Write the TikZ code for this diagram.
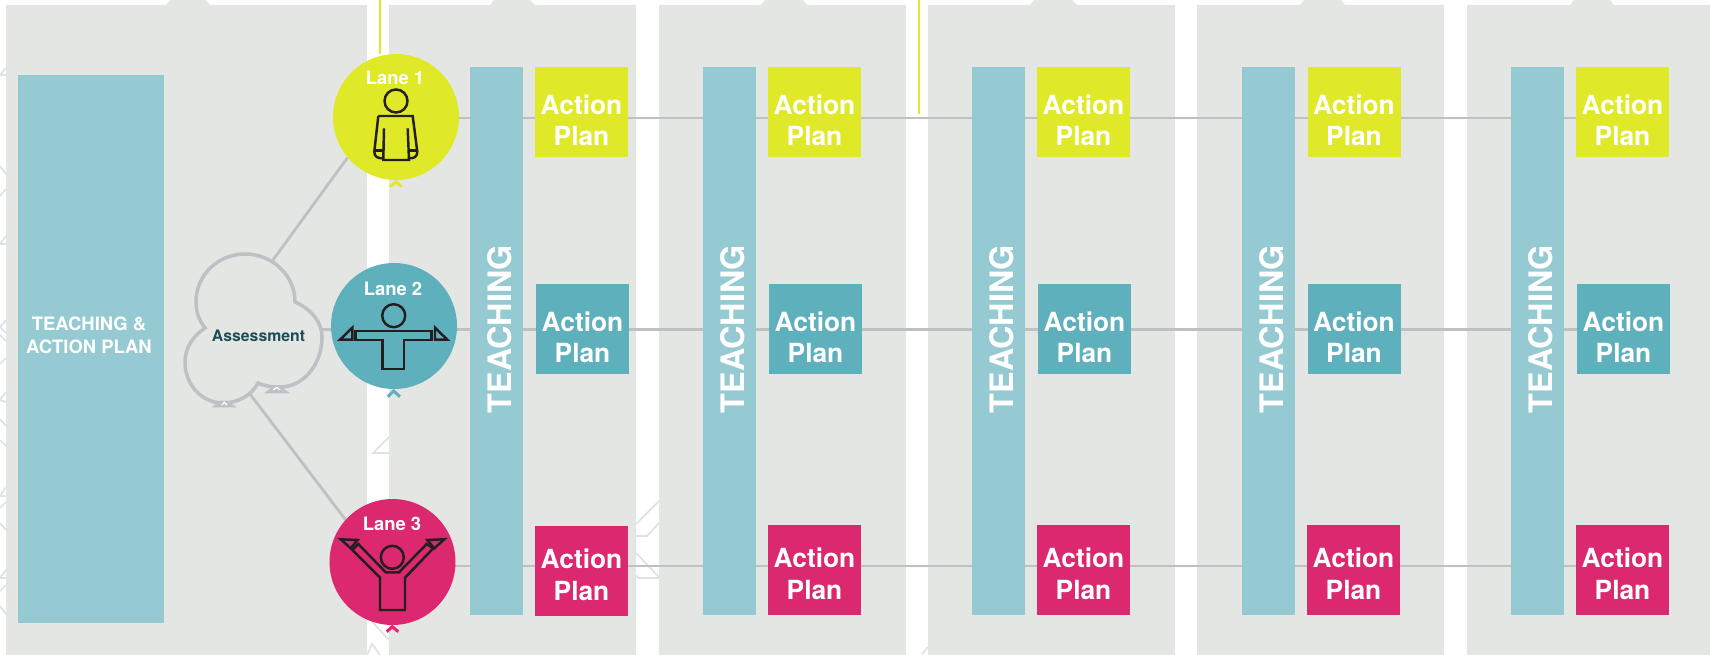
\documentclass[tikz,border=0pt]{standalone}
\usepackage{fontspec}
\setmainfont{TeX Gyre Heros}
\definecolor{panelgrey}{HTML}{E4E6E3}
\definecolor{linegrey}{HTML}{BEC0C3}
\definecolor{ghostgrey}{HTML}{DFE1E2}
\definecolor{barblue}{HTML}{96CAD3}
\definecolor{laneyellow}{HTML}{E0E928}
\definecolor{laneblue}{HTML}{5EB0BD}
\definecolor{lanepink}{HTML}{DC286E}
\definecolor{inkdark}{HTML}{231F20}
\definecolor{assesstext}{HTML}{1D4C56}
\newcommand{\actionplan}{\rule{0pt}{20.6pt}Action\\Plan}
\newcommand{\actionplanhigh}{\rule{0pt}{15.7pt}Action\\Plan}
\tikzset{
  panel/.style={fill=panelgrey},
  ghost/.style={draw=ghostgrey,line width=1pt},
  lanecircle/.style={circle,minimum size=2.52cm,inner sep=0pt},
  lanetext/.style={text=white,font=\fontsize{10.5}{12}\selectfont\bfseries,inner sep=0pt},
  teachbar/.style={fill=barblue,minimum width=1.06cm,minimum height=10.96cm,inner sep=0pt},
  teachtext/.style={text=white,rotate=90,font=\fontsize{18.4}{20}\selectfont\bfseries,inner sep=0pt},
  actionbox/.style={minimum width=1.86cm,minimum height=1.8cm,inner sep=0pt,align=center,
    text=white,font=\fontsize{15}{18}\selectfont\bfseries},
  railline/.style={draw=linegrey,line width=1.6pt},
  figureline/.style={draw=inkdark,line width=1.4pt,line join=miter},
  tickmark/.style={line width=1.7pt,line join=miter}
}
\pgfdeclarelayer{back}
\pgfsetlayers{back,main}
\begin{document}
\begin{tikzpicture}[x=0.02cm,y=-0.02cm]
\useasboundingbox (0,0) rectangle (1710,655);
% columns behind everything
\begin{pgfonlayer}{back}
\begin{scope}[ghost]
    \draw (6,68)--(0,75)--(6,75);
    \draw (0,166)--(6,174);
    \draw (6,189)--(0,196);
    \draw (6,236)--(0,244)--(6,244);
    \draw (6,320)--(0,327)--(6,333);
    \draw (0,335)--(6,341);
    \draw (6,358)--(0,364);
    \draw (6,392)--(0,400)--(6,402);
    \draw (0,419)--(6,426);
    \draw (0,440)--(6,446);
    \draw (6,487)--(0,496)--(6,496);
    \draw (6,502)--(0,508);
    \draw (0,523)--(6,530);
    \draw (6,570)--(0,578)--(6,578);
    \draw (6,585)--(0,591);
    \draw (0,606)--(6,614);
    \draw (389,437)--(373,453)--(389,453);
    \draw (367,616)--(389,640);
    \draw (367,655)--(372,644)--(380,655);
    \draw (636,524)--(659,501);
    \draw (636,536)--(647,536)--(659,523);
    \draw (636,553)--(659,577);
    \draw (636,575)--(638,578)--(659,578);
    \draw (922,654)--(928,647);
\end{scope}
\fill[panel] (6,5) rectangle (367,655);
\fill[panel] (389,5) rectangle (636,655);
\fill[panel] (659,5) rectangle (906,655);
\fill[panel] (928,5) rectangle (1175,655);
\fill[panel] (1197,5) rectangle (1444,655);
\fill[panel] (1467,5) rectangle (1710,655);
\fill[panel] (166,5)--(170,0)--(206,0)--(210,5)--cycle;
\fill[panel] (490,5)--(494,0)--(530,0)--(535,5)--cycle;
\fill[panel] (761,5)--(765,0)--(803,0)--(807,5)--cycle;
\fill[panel] (1030,5)--(1034,0)--(1072,0)--(1077,5)--cycle;
\fill[panel] (1300,5)--(1304,0)--(1341,0)--(1345,5)--cycle;
\fill[panel] (1570,5)--(1574,0)--(1610,0)--(1614,5)--cycle;
\end{pgfonlayer}

\node[fill=barblue,minimum width=2.92cm,minimum height=10.96cm,inner sep=0pt] (plan) at (91,349) {};
\node[text=white,align=center,inner sep=0pt,font=\fontsize{10.5}{13}\selectfont\bfseries] (plantext) at (89,335) {TEACHING \&\\ACTION PLAN};

% the cloud
\draw[draw=linegrey,line width=2pt,line join=miter] (205,328)
  .. controls (199,320) and (196,312) .. (196,302)
  .. controls (196,275) and (218,254) .. (245,254)
  .. controls (272,254) and (295,275) .. (295,302)
  .. controls (311,309) and (322,322) .. (322,337)
  .. controls (322,365) and (303,387) .. (280,387)
  .. controls (272,387) and (264,386) .. (258,383)
  .. controls (252,395) and (238,403) .. (223,403)
  .. controls (202,403) and (185,385) .. (185,362)
  .. controls (185,348) and (193,336) .. (205,328) -- cycle;
\fill[linegrey] (211.7,407.3)--(236.7,407.3)--(228,400.7)--(220,400.7)--cycle;
\fill[linegrey] (264,393.3)--(290,393.3)--(280,386)--(273.3,386)--cycle;
\draw[white,line width=0.7pt] (221.7,405)--(224.3,402.3)--(227,405);
\draw[white,line width=0.7pt] (273.3,390)--(276.7,387.3)--(280,390);
\node[text=assesstext,inner sep=0pt,font=\fontsize{9}{11}\selectfont\bfseries] (assess) at (258.5,336) {Assessment};
\coordinate (cloudtop) at (273,260);
\coordinate (cloudright) at (322,329.5);
\coordinate (cloudbottom) at (250,394);

% lanes
\node[lanecircle,fill=laneyellow] (lane1) at (396,117) {};
\node[lanecircle,fill=laneblue] (lane2) at (394,326) {};
\node[lanecircle,fill=lanepink] (lane3) at (392.5,562) {};
\node[lanetext] (lane1text) at (395,78) {Lane 1};
\node[lanetext] (lane2text) at (393,289) {Lane 2};
\node[lanetext] (lane3text) at (392,524) {Lane 3};
\draw[laneyellow,tickmark] (390,186.7)--(396,181.7)--(401.7,186.7);
\draw[laneblue,tickmark] (387.7,396.7)--(393.7,391)--(400,396.7);
\draw[lanepink,tickmark] (386.7,631.7)--(392.3,626.7)--(398.3,631.7);

% figures
\begin{scope}[figureline]
    \draw (396,101) circle[radius=11.5];
    \draw (378.3,116)--(412.7,116)--(417.3,151.7)
      .. controls (417.5,157) and (413,159) .. (409,158);
    \draw (378.3,116)--(374.3,151.7)
      .. controls (374,157) and (379,159) .. (383.3,158);
    \draw (374.5,150.5)--(383.5,150.5);
    \draw (408.7,150.5)--(417.3,150.5);
    \draw (384,128.3)--(383.3,160)--(409,160)--(407.7,128.3);

    \draw (393.7,315.7) circle[radius=11.5];
    \draw (355.7,331)--(431.7,331)--(431.7,340)--(404,340)--(404,369)--(382.3,369)--(382.3,340)--(355.7,340)--cycle;
    \draw (352.3,327.7)--(352.3,339.7)--(340,339.7)--cycle;
    \draw (435,327.7)--(435,339.7)--(447.3,339.7)--cycle;

    \draw (392.3,557.3) circle[radius=11.5];
    \draw (380,610)--(405,610)--(405,577.7)--(433.3,548.3)--(426.7,544)--(399,572.3)--(385.7,572.3)--(358.3,544)--(352.3,550)--(380,577.7)--cycle;
    \draw (340.7,539.3)--(357.7,540)--(350.7,548.3)--cycle;
    \draw (444.3,539.3)--(427.3,540)--(434.3,548.3)--cycle;
\end{scope}

% teaching bars
\node[teachbar] (bar1) at (496.5,341) {};
\node[teachbar] (bar2) at (729.5,341) {};
\node[teachbar] (bar3) at (998.5,341) {};
\node[teachbar] (bar4) at (1268.5,341) {};
\node[teachbar] (bar5) at (1537.5,341) {};
\node[teachtext] (teach1) at (499.5,329) {TEACHING};
\node[teachtext] (teach2) at (732.5,329) {TEACHING};
\node[teachtext] (teach3) at (1001.5,329) {TEACHING};
\node[teachtext] (teach4) at (1271.5,329) {TEACHING};
\node[teachtext] (teach5) at (1540.5,329) {TEACHING};

% action plans
\node[actionbox,fill=laneyellow] (act11) at (581.5,112) {\actionplan};
\node[actionbox,fill=laneyellow] (act21) at (814.5,112) {\actionplan};
\node[actionbox,fill=laneyellow] (act31) at (1083.5,112) {\actionplan};
\node[actionbox,fill=laneyellow] (act41) at (1354,112) {\actionplan};
\node[actionbox,fill=laneyellow] (act51) at (1622.5,112) {\actionplan};
\node[actionbox,fill=laneblue] (act12) at (582.5,329) {\actionplan};
\node[actionbox,fill=laneblue] (act22) at (815.5,329) {\actionplan};
\node[actionbox,fill=laneblue] (act32) at (1084.5,329) {\actionplan};
\node[actionbox,fill=laneblue] (act42) at (1354,329) {\actionplan};
\node[actionbox,fill=laneblue] (act52) at (1623.5,329) {\actionplan};
\node[actionbox,fill=lanepink] (act13) at (581.5,571) {\actionplanhigh};
\node[actionbox,fill=lanepink] (act23) at (814.5,570) {\actionplanhigh};
\node[actionbox,fill=lanepink] (act33) at (1083.5,570) {\actionplanhigh};
\node[actionbox,fill=lanepink] (act43) at (1353.5,570) {\actionplanhigh};
\node[actionbox,fill=lanepink] (act53) at (1622.5,570) {\actionplanhigh};

% rails and spokes go under the nodes
\coordinate (rail1) at (1576,118);
\coordinate (rail2) at (1577,329.5);
\coordinate (rail3) at (1576,566);
\coordinate (drop1) at (380,0);
\coordinate (drop2top) at (919,0);
\coordinate (drop2end) at (919,114);
\begin{pgfonlayer}{back}
    \draw[railline] (lane1 |- rail1)--(rail1);
    \draw[railline] (cloudright)--(rail2);
    \draw[railline] (lane3 |- rail3)--(rail3);
    \draw[railline] (cloudtop)--(lane1.220);
    \draw[railline] (cloudbottom)--(lane3.138);
    \draw[laneyellow,line width=1.3pt] (drop1)--(lane1.north -| drop1);
    \draw[laneyellow,line width=1.3pt] (drop2top)--(drop2end);
\end{pgfonlayer}
\end{tikzpicture}
\end{document}
